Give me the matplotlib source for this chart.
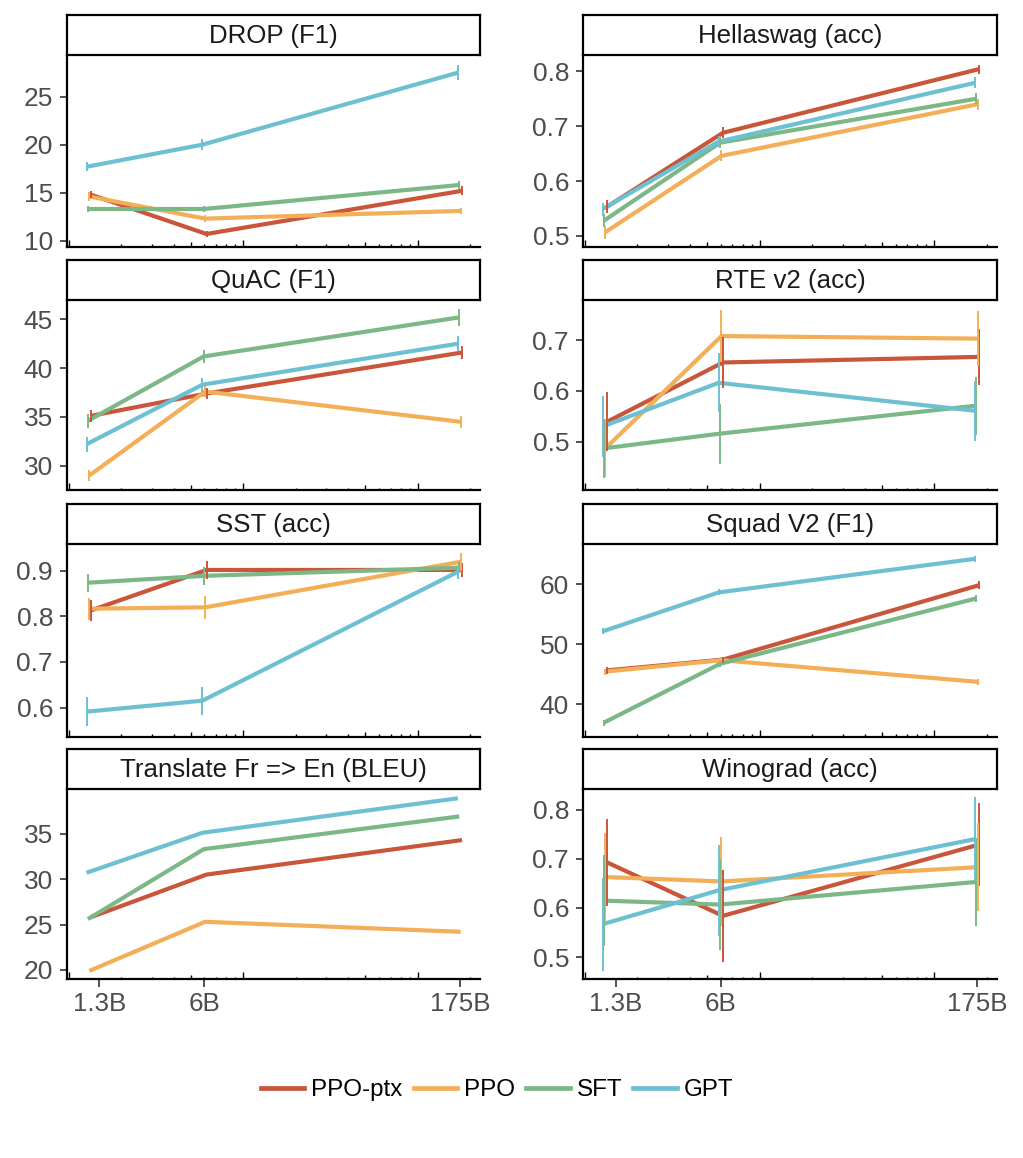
import numpy as np
import matplotlib.pyplot as plt
from matplotlib.lines import Line2D
from matplotlib.ticker import NullLocator

plt.rcParams['font.family'] = ['Liberation Sans', 'DejaVu Sans']

# model sizes (x) and axis labels
sizes = np.array([1.3e9, 6e9, 175e9])
tick_pos = [1.5e9, 6e9, 175e9]
tick_labels = ['1.3B', '6B', '175B']

methods = ['PPO-ptx', 'PPO', 'SFT', 'GPT']
colors = ['#C9553B', '#F3AF57', '#7BB886', '#6DC0D2']

# values per task, rows follow `methods`
drop = [[14.8, 10.7, 15.2], [14.6, 12.3, 13.1], [13.3, 13.3, 15.8], [17.7, 20.0, 27.5]]
drop_err = [[0.4, 0.3, 0.45], [0.45, 0.4, 0.35], [0.35, 0.35, 0.4], [0.45, 0.55, 0.75]]

hellaswag = [[0.553, 0.688, 0.804], [0.507, 0.646, 0.740], [0.528, 0.670, 0.750], [0.549, 0.672, 0.779]]
hellaswag_err = [[0.012, 0.01, 0.008], [0.012, 0.01, 0.01], [0.012, 0.01, 0.01], [0.012, 0.01, 0.01]]

quac = [[35.1, 37.4, 41.6], [29.0, 37.6, 34.5], [34.6, 41.2, 45.2], [32.2, 38.3, 42.5]]
quac_err = [[0.6, 0.6, 0.7], [0.6, 0.6, 0.6], [0.7, 0.7, 0.85], [0.75, 0.7, 0.75]]

rte = [[0.539, 0.656, 0.667], [0.487, 0.708, 0.703], [0.487, 0.516, 0.571], [0.530, 0.616, 0.561]]
rte_err = [[0.058, 0.05, 0.055], [0.057, 0.052, 0.054], [0.058, 0.059, 0.057], [0.06, 0.058, 0.059]]

sst = [[0.813, 0.902, 0.902], [0.817, 0.820, 0.920], [0.874, 0.889, 0.907], [0.591, 0.615, 0.898]]
sst_err = [[0.024, 0.02, 0.015], [0.024, 0.025, 0.02], [0.02, 0.02, 0.012], [0.032, 0.031, 0.015]]

squad = [[45.6, 47.4, 59.8], [45.4, 47.3, 43.7], [36.9, 46.7, 57.6], [52.1, 58.6, 64.2]]
squad_err = [[0.6, 0.5, 0.7], [0.5, 0.5, 0.5], [0.5, 0.5, 0.6], [0.5, 0.5, 0.5]]

translate = [[25.8, 30.5, 34.3], [19.9, 25.3, 24.2], [25.6, 33.3, 36.9], [30.7, 35.1, 38.9]]

winograd = [[0.693, 0.584, 0.729], [0.663, 0.654, 0.683], [0.615, 0.607, 0.653], [0.567, 0.636, 0.740]]
winograd_err = [[0.088, 0.094, 0.084], [0.09, 0.091, 0.089], [0.093, 0.093, 0.09], [0.095, 0.092, 0.085]]

titles = ['DROP (F1)', 'Hellaswag (acc)', 'QuAC (F1)', 'RTE v2 (acc)',
          'SST (acc)', 'Squad V2 (F1)', 'Translate Fr => En (BLEU)', 'Winograd (acc)']
values = [drop, hellaswag, quac, rte, sst, squad, translate, winograd]
errors = [drop_err, hellaswag_err, quac_err, rte_err, sst_err, squad_err, None, winograd_err]
ylims = [(9.375, 29.34), (0.4805, 0.8297), (27.51, 46.98), (0.405, 0.779),
         (0.536, 0.959), (34.55, 66.67), (18.97, 39.92), (0.455, 0.842)]
yticks = [[10, 15, 20, 25], [0.5, 0.6, 0.7, 0.8], [30, 35, 40, 45], [0.5, 0.6, 0.7],
          [0.6, 0.7, 0.8, 0.9], [40, 50, 60], [20, 25, 30, 35], [0.5, 0.6, 0.7, 0.8]]

# layout in pixels
W, H = 1023, 1158
col_x = [(67, 480), (583, 997)]
row_y = [(55, 246.7), (300, 490), (544, 736.7), (789, 979.3)]
strip_h = 40
dodge = [1.5, 0.5, -0.5, -1.5]

fig = plt.figure(figsize=(W / 100, H / 100), dpi=100)

for i, title in enumerate(titles):
    r, c = i // 2, i % 2
    x0, x1 = col_x[c]
    y0, y1 = row_y[r]
    ax = fig.add_axes([x0 / W, 1 - y1 / H, (x1 - x0) / W, (y1 - y0) / H])
    sax = fig.add_axes([x0 / W, 1 - y0 / H, (x1 - x0) / W, strip_h / H])

    # strip
    sax.set_xticks([])
    sax.set_yticks([])
    for s in sax.spines.values():
        s.set_linewidth(1.6)
        s.set_color('black')
    sax.text(0.5, 0.48, title, ha='center', va='center', fontsize=18.6,
             color='#1A1A1A', transform=sax.transAxes)

    vals = values[i]
    errs = errors[i]
    for k, m in enumerate(methods):
        xs = sizes * 10 ** (dodge[k] * 0.008)
        ax.plot(xs, vals[k], color=colors[k], lw=3.0, solid_capstyle='butt', zorder=3)
        if errs is not None:
            lo = np.array(vals[k]) - np.array(errs[k])
            hi = np.array(vals[k]) + np.array(errs[k])
            ax.vlines(xs, lo, hi, color=colors[k], lw=1.4, zorder=4)

    ax.set_xscale('log')
    ax.set_xlim(10 ** 8.99, 10 ** 11.358)
    ax.set_ylim(*ylims[i])
    ax.set_yticks(yticks[i])
    ax.xaxis.set_minor_locator(NullLocator())
    if r == 3:
        ax.set_xticks(tick_pos, tick_labels)
    else:
        ax.set_xticks([])

    for s in ['top', 'right']:
        ax.spines[s].set_visible(False)
    for s in ['left', 'bottom']:
        ax.spines[s].set_linewidth(1.6)
    ax.tick_params(axis='y', direction='out', length=5, width=1.2, color='#333333',
                   labelcolor='#4D4D4D', labelsize=19, pad=5)
    ax.tick_params(axis='x', direction='out', length=6, width=1.2, color='#333333',
                   labelcolor='#4D4D4D', labelsize=18.6, pad=3.5)

    # log ticks along the bottom, inside the panel
    lx, lh = [], []
    for d in [9, 10, 11]:
        for m in range(1, 10):
            v = m * 10.0 ** d
            if 10 ** 8.99 <= v <= 10 ** 11.358:
                lx.append(v)
                lh.append(0.037 if m == 1 else (0.025 if m == 5 else 0.013))
    ax.vlines(lx, 0, lh, transform=ax.get_xaxis_transform(), color='black', lw=1.0)

handles = [Line2D([], [], color=col, lw=3.4) for col in colors]
fig.legend(handles, methods, loc='center', bbox_to_anchor=(0.486, 0.0587), ncol=4,
           frameon=False, fontsize=17.4, handlelength=1.8, handletextpad=0.3,
           columnspacing=0.45)

fig.savefig('out.png', dpi=100)
